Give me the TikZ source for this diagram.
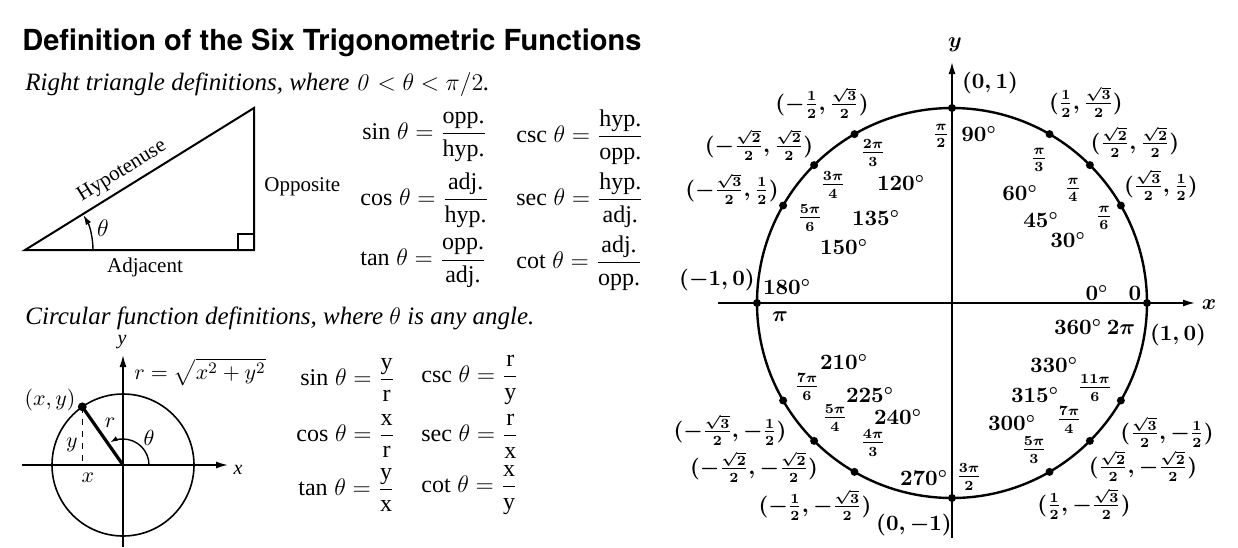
\documentclass[tikz,border=0pt]{standalone}
\usepackage{amsmath}
\usepackage[no-math]{fontspec}
\setmainfont{Liberation Serif}
\newfontfamily\headfont{TeX Gyre Heros}
\usetikzlibrary{arrows.meta}
\newcommand{\fn}[1]{\text{#1}\;\theta}

\begin{document}
\begin{tikzpicture}[x=0.5pt,y=0.5pt,
  axis/.style={line width=0.8pt,-{Latex[length=6pt,width=3.5pt]}},
  eqn/.style={font=\fontsize{12}{14}\selectfont,anchor=west,inner sep=0pt},
  caption/.style={font=\itshape\fontsize{12.5}{15}\selectfont,anchor=west,inner sep=0pt},
  side/.style={font=\fontsize{10.5}{12}\selectfont,inner sep=1pt},
  slbl/.style={font=\fontsize{11}{13}\selectfont,inner sep=0pt},
  clbl/.style={font=\fontsize{10.5}{12}\selectfont\boldmath,inner sep=0pt}]
\useasboundingbox (0,0) rectangle (1238,-547);
% headings
\node[font=\headfont\bfseries\fontsize{14.5}{17}\selectfont,anchor=west,inner sep=0pt] (title) at (22,-43) {Definition of the Six Trigonometric Functions};
\node[caption] (rtcap) at (25,-84) {Right triangle definitions, where $\mathit{0}<\theta<\pi/2$.};
\node[caption] (cfcap) at (25,-318) {Circular function definitions, where $\theta$ is any angle.};
% right triangle
\coordinate (tA) at (25,-250);
\coordinate (tB) at (254,-250);
\coordinate (tC) at (254,-108);
\draw[line width=1pt] (tA) -- (tB) -- (tC) -- cycle;
\draw[line width=0.7pt] (238,-250) |- (254,-234);
\draw[line width=0.7pt,-{Latex[length=5pt,width=3pt]}] (93,-250) arc[start angle=0,end angle=31,radius=68];
\path (tA) -- (tC) node[side,pos=0.46,sloped,above=2pt] (hyp) {Hypotenuse};
\node[side,anchor=west] (opp) at (262,-187) {Opposite};
\node[side] (adj) at (145,-267) {Adjacent};
\node[font=\fontsize{12}{14}\selectfont,inner sep=0pt] (thA) at (103,-228) {$\theta$};
% right triangle equations
\node[eqn] (sinA) at (362,-137) {$\fn{sin}=\dfrac{\text{opp.}}{\text{hyp.}}$};
\node[eqn] (cscA) at (516,-137) {$\fn{csc}=\dfrac{\text{hyp.}}{\text{opp.}}$};
\node[eqn] (cosA) at (360,-200) {$\fn{cos}=\dfrac{\text{adj.}}{\text{hyp.}}$};
\node[eqn] (secA) at (516,-200) {$\fn{sec}=\dfrac{\text{hyp.}}{\text{adj.}}$};
\node[eqn] (tanA) at (360,-263) {$\fn{tan}=\dfrac{\text{opp.}}{\text{adj.}}$};
\node[eqn] (cotA) at (516,-263) {$\fn{cot}=\dfrac{\text{adj.}}{\text{opp.}}$};
% small circle
\coordinate (sO) at (123,-465);
\coordinate (sXl) at (22,-465);
\coordinate (sXr) at (228,-465);
\coordinate (sYb) at (123,-547);
\coordinate (sYt) at (123,-355);
\coordinate (sP) at (82.3,-406.8);
\coordinate (sF) at (82.3,-465);
\draw[line width=0.8pt] (sO) circle[radius=71];
\draw[axis] (sXl) -- (sXr);
\draw[axis] (sYb) -- (sYt);
\draw[dashed,line width=0.6pt] (sP) -- (sF);
\draw[line width=1.6pt] (sO) -- (sP);
\fill (sP) circle (2.2pt);
\draw[line width=0.7pt,-{Latex[length=4pt,width=2.5pt]}] (149,-465) arc[start angle=0,end angle=120,radius=26];
\node[slbl,font=\itshape\fontsize{10}{12}\selectfont] (sy) at (122,-342) {y};
\node[slbl,font=\itshape\fontsize{10}{12}\selectfont] (sx) at (238,-470) {x};
\node[slbl] (sPt) at (50,-400) {$(x,y)$};
\node[slbl] (sr) at (110,-423) {$r$};
\node[slbl] (syl) at (72,-445) {$y$};
\node[slbl] (sxl) at (88,-478) {$x$};
\node[slbl] (sth) at (149,-438) {$\theta$};
\node[slbl] (srad) at (200,-372) {$r=\sqrt{x^2+y^2}$};
% circular equations
\node[eqn] (sinB) at (300,-380) {$\fn{sin}=\dfrac{\text{y}}{\text{r}}$};
\node[eqn] (cscB) at (421,-380) {$\fn{csc}=\dfrac{\text{r}}{\text{y}}$};
\node[eqn] (cosB) at (296,-436) {$\fn{cos}=\dfrac{\text{x}}{\text{r}}$};
\node[eqn] (secB) at (421,-436) {$\fn{sec}=\dfrac{\text{r}}{\text{x}}$};
\node[eqn] (tanB) at (298,-490) {$\fn{tan}=\dfrac{\text{y}}{\text{x}}$};
\node[eqn] (cotB) at (421,-490) {$\fn{cot}=\dfrac{\text{x}}{\text{y}}$};
% unit circle
\coordinate (uO) at (952,-303);
\coordinate (uXl) at (718,-303);
\coordinate (uXr) at (1195,-303);
\coordinate (uYb) at (952,-538);
\coordinate (uYt) at (952,-62);
\draw[axis] (uXl) -- (uXr);
\draw[axis] (uYb) -- (uYt);
\draw[line width=1.2pt] (uO) circle[radius=195];
\foreach \a in {0,30,45,60,90,120,135,150,180,210,225,240,270,300,315,330}
  \fill ([shift={(\a:195)}]uO) circle (2pt);
% unit circle labels
\foreach \nm/\x/\y/\txt in {
  ylab/955/45/{$y$}, xlab/1209/305/{$x$},
  pt90/990/83/{$(0,1)$}, pt60/1086/102/{$(\frac12,\frac{\sqrt3}2)$},
  pt120/822/103/{$(-\frac12,\frac{\sqrt3}2)$}, pt45/1135/142/{$(\frac{\sqrt2}2,\frac{\sqrt2}2)$},
  pt135/759/145/{$(-\frac{\sqrt2}2,\frac{\sqrt2}2)$}, pt30/1161/185/{$(\frac{\sqrt3}2,\frac12)$},
  pt150/732/189/{$(-\frac{\sqrt3}2,\frac12)$}, pt180/717/280/{$(-1,0)$},
  pt0/1178/335/{$(1,0)$}, pt210/730/430/{$(-\frac{\sqrt3}2,-\frac12)$},
  pt330/1167/432/{$(\frac{\sqrt3}2,-\frac12)$}, pt225/754/467/{$(-\frac{\sqrt2}2,-\frac{\sqrt2}2)$},
  pt315/1143/466/{$(\frac{\sqrt2}2,-\frac{\sqrt2}2)$}, pt240/815/505/{$(-\frac12,-\frac{\sqrt3}2)$},
  pt300/1084/504/{$(\frac12,-\frac{\sqrt3}2)$}, pt270/914/525/{$(0,-1)$},
  rad90/941/136/{$\frac{\pi}{2}$}, deg90/979/134/{$90^\circ$},
  rad120/873/153/{$\frac{2\pi}{3}$}, rad60/1039/160/{$\frac{\pi}{3}$},
  rad135/833/185/{$\frac{3\pi}{4}$}, deg120/901/183/{$120^\circ$},
  deg60/1020/193/{$60^\circ$}, rad45/1073/190/{$\frac{\pi}{4}$},
  rad150/810/218/{$\frac{5\pi}{6}$}, deg135/876/218/{$135^\circ$},
  deg45/1041/220/{$45^\circ$}, rad30/1104/218/{$\frac{\pi}{6}$},
  deg150/844/247/{$150^\circ$}, deg30/1068/240/{$30^\circ$},
  deg180/787/287/{$180^\circ$}, deg0/1097/293/{$0^\circ$},
  rad0/1135/293/{$0$}, rad180/780/317/{$\pi$},
  deg360/1078/327/{$360^\circ$}, rad360/1121/327/{$2\pi$},
  deg210/844/362/{$210^\circ$}, deg330/1054/365/{$330^\circ$},
  rad210/807/387/{$\frac{7\pi}{6}$}, deg225/870/395/{$225^\circ$},
  rad330/1095/388/{$\frac{11\pi}{6}$}, deg315/1035/395/{$315^\circ$},
  rad225/835/418/{$\frac{5\pi}{4}$}, deg240/898/417/{$240^\circ$},
  deg300/1012/423/{$300^\circ$}, rad315/1069/420/{$\frac{7\pi}{4}$},
  rad240/873/443/{$\frac{4\pi}{3}$}, rad300/1034/450/{$\frac{5\pi}{3}$},
  deg270/924/478/{$270^\circ$}, rad270/969/477/{$\frac{3\pi}{2}$}}
  \node[clbl] (\nm) at (\x,-\y) {\txt};
\end{tikzpicture}
\end{document}
